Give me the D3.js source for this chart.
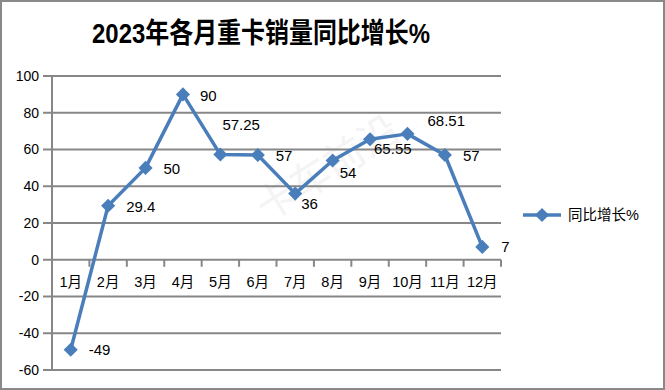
<!DOCTYPE html>
<html><head><meta charset="utf-8">
<script src="https://cdn.jsdelivr.net/npm/d3@7"></script>
<style>body{margin:0;background:#fff;}svg{display:block;}</style>
</head><body>
<svg id="c" width="665" height="390"></svg>
<script>
const categories = ["1月","2月","3月","4月","5月","6月","7月","8月","9月","10月","11月","12月"];
const values = [-49, 29.4, 50, 90, 57.25, 57, 36, 54, 65.55, 68.51, 57, 7];
const valueLabels = ["-49","29.4","50","90","57.25","57","36","54","65.55","68.51","57","7"];
const yTicks = [-60,-40,-20,0,20,40,60,80,100];
const title = "2023年各月重卡销量同比增长%";
const seriesName = "同比增长%";
// label placement: [dx, dy]
const labelOffsets = [[18,0],[18,1],[18,1],[17,1],[2,-30],[18,1],[6,10],[7,12],[4,9],[20,-13],[18,1],[19,0]];

const font = "'Liberation Sans','Noto Sans CJK SC',sans-serif";
const svg = d3.select("#c");
svg.append("rect").attr("x",1).attr("y",1).attr("width",663).attr("height",388)
  .attr("fill","#fff").attr("stroke","#898989").attr("stroke-width",2);

const x = d3.scaleBand().domain(categories).range([52,501]);
const y = d3.scaleLinear().domain([-60,100]).range([370,76]);

// watermark
svg.append("text").attr("transform","translate(335,180) rotate(-32)")
  .attr("text-anchor","middle").attr("font-family","'Noto Sans CJK SC',sans-serif")
  .attr("font-size",40).attr("fill","#f4f4f4").text("卡车前沿");

// gridlines
svg.append("g").selectAll("line").data(yTicks).join("line")
  .attr("x1",43).attr("x2",501).attr("y1",d=>y(d)).attr("y2",d=>y(d))
  .attr("stroke","#878787").attr("stroke-width",2);
// y axis line
svg.append("line").attr("x1",52).attr("x2",52).attr("y1",y(100)).attr("y2",y(-60)+1)
  .attr("stroke","#878787").attr("stroke-width",2);
// y tick labels
svg.append("g").selectAll("text").data(yTicks).join("text")
  .attr("x",39).attr("y",d=>y(d)).attr("dy","0.35em").attr("text-anchor","end")
  .attr("font-family",font).attr("font-size",14).attr("fill","#000").text(d=>d);
// x axis ticks at 0
const bounds = categories.map(c=>x(c)).concat([x.range()[1]]);
svg.append("g").selectAll("line").data(bounds.slice(1)).join("line")
  .attr("x1",d=>d).attr("x2",d=>d).attr("y1",y(0)).attr("y2",y(0)+7)
  .attr("stroke","#878787").attr("stroke-width",2);
svg.append("g").selectAll("text").data(categories).join("text")
  .attr("x",d=>x(d)+x.bandwidth()/2).attr("y",y(0)+22).attr("dy","0.35em")
  .attr("text-anchor","middle").attr("font-family",font).attr("font-size",14.5)
  .attr("fill","#000").text(d=>d);

// line
const cx = (d,i)=>x(categories[i])+x.bandwidth()/2;
const line = d3.line().x((d,i)=>cx(d,i)).y(d=>y(d));
svg.append("path").datum(values).attr("d",line).attr("fill","none")
  .attr("stroke","#4a7ebb").attr("stroke-width",3.5).attr("stroke-linejoin","round");
svg.append("g").selectAll("path").data(values).join("path")
  .attr("d",d3.symbol().type(d3.symbolSquare).size(100))
  .attr("transform",(d,i)=>`translate(${cx(d,i)},${y(d)}) rotate(45)`)
  .attr("fill","#4a7ebb");

// data labels
svg.append("g").selectAll("text").data(values).join("text")
  .attr("x",(d,i)=>cx(d,i)+labelOffsets[i][0]).attr("y",(d,i)=>y(d)+labelOffsets[i][1])
  .attr("dy","0.35em").attr("font-family",font).attr("font-size",15).attr("fill","#000")
  .text((d,i)=>valueLabels[i]);

// title
svg.append("text").attr("x",92).attr("y",43)
  .attr("font-family","'Liberation Sans','Noto Sans CJK SC',sans-serif")
  .attr("font-weight","bold").attr("font-size",28).attr("fill","#000")
  .attr("textLength",338).attr("lengthAdjust","spacingAndGlyphs").text(title);

// legend
svg.append("line").attr("x1",523).attr("x2",561).attr("y1",215).attr("y2",215)
  .attr("stroke","#4a7ebb").attr("stroke-width",3.5);
svg.append("path").attr("d",d3.symbol().type(d3.symbolSquare).size(100))
  .attr("transform","translate(542,215) rotate(45)").attr("fill","#4a7ebb");
svg.append("text").attr("x",568).attr("y",215).attr("dy","0.35em")
  .attr("font-family",font).attr("font-size",14.5).attr("fill","#000").text(seriesName);
</script>
</body></html>
